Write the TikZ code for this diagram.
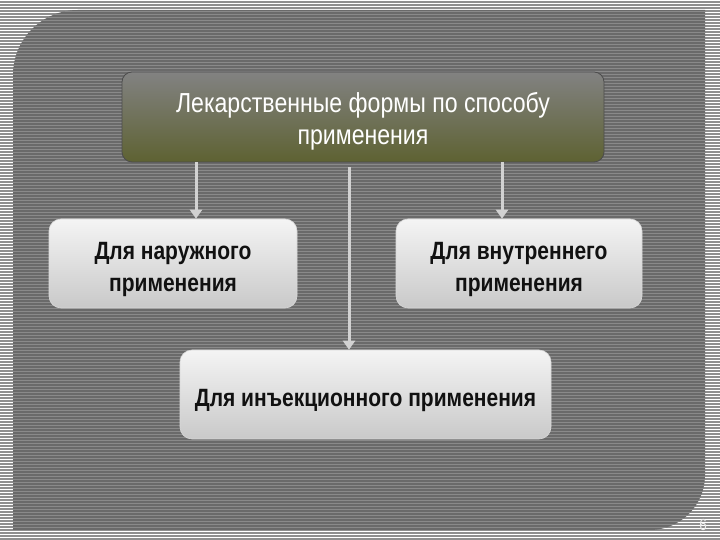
\documentclass[tikz,border=0pt]{standalone}
\usepackage{fontspec}
\setmainfont{Liberation Sans}[FakeStretch=0.84]
\usetikzlibrary{arrows.meta, positioning, calc}
\definecolor{bgline}{HTML}{8E8E8E}
\definecolor{panelgray}{HTML}{6A6A6A}
\definecolor{panelline}{HTML}{8A8A8A}
\definecolor{olivedk}{HTML}{5E6232}
\definecolor{olivetop}{HTML}{828282}
\definecolor{boxtop}{HTML}{F4F4F4}
\definecolor{boxbot}{HTML}{C9C9C9}
\definecolor{arrgray}{HTML}{D2D2D2}
\definecolor{txtdk}{HTML}{111111}

\tikzset{
  headbox/.style={rounded corners=10pt, draw=black!70, line width=0.8pt,
    top color=olivetop, bottom color=olivedk, text=white,
    minimum width=482pt, minimum height=90pt, align=center,
    text height=60pt, font=\fontsize{27.5}{32}\selectfont},
  kindbox/.style={rounded corners=12pt, draw=white!70!gray, line width=0.6pt,
    top color=boxtop, bottom color=boxbot, text=txtdk,
    minimum height=89pt, align=center, text height=61pt,
    font=\fontsize{25}{32}\selectfont\bfseries},
  arr/.style={arrgray, line width=3pt, -{Triangle[length=9pt, width=12pt]}},
}

\begin{document}
\begin{tikzpicture}[x=1pt, y=1pt]
\useasboundingbox (0,0) rectangle (720,540);

% Background stripes
\fill[white] (0,0) rectangle (720,540);
\foreach \k in {0,...,179}
  \fill[bgline] (0,3*\k) rectangle (720,3*\k+1.6);

% Panel with two rounded corners
\begin{scope}
  \clip (13,10) -- (13,465) arc[start angle=180, end angle=90, radius=65]
    -- (705,530) -- (705,65) arc[start angle=0, end angle=-90, radius=55]
    -- cycle;
  \fill[panelgray] (0,0) rectangle (720,540);
  \foreach \k in {0,...,179}
    \fill[panelline] (0,3*\k) rectangle (720,3*\k+1);
\end{scope}

% Boxes
\node[headbox] (forms) at (363,423) {Лекарственные формы по способу\\применения};
\node[kindbox, minimum width=248pt] (outer) at (173,276.5) {Для наружного\\применения};
\node[kindbox, minimum width=246pt] (inner) at (519,276.5) {Для внутреннего\\применения};
\node[kindbox, minimum width=371pt, text height=30pt] (inject) at (365.5,145.5) {Для инъекционного применения};

% Arrows
\coordinate (xl) at (196,0);
\coordinate (xm) at (349,0);
\coordinate (xr) at (502,0);
\draw[arr] (forms.south -| xl) -- (outer.north -| xl);
\draw[arr] ($(forms.south -| xm)+(0,-5)$) -- (inject.north -| xm);
\draw[arr] (forms.south -| xr) -- (inner.north -| xr);

% Page number
\node[text=white!85!gray, font=\fontsize{16}{18}\selectfont] (page) at (703,15) {6};

\end{tikzpicture}
\end{document}
